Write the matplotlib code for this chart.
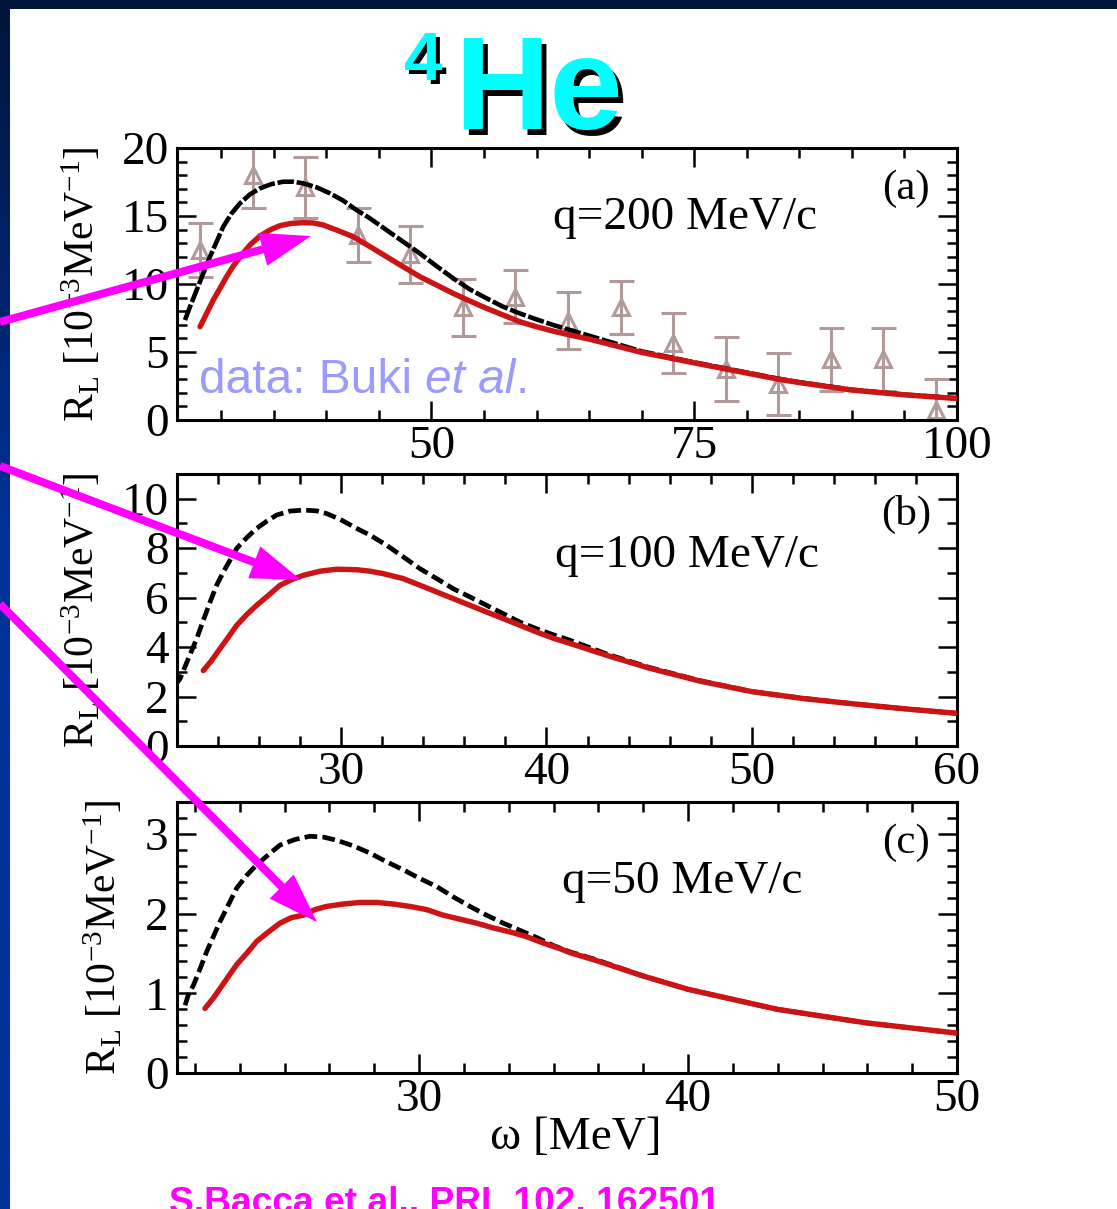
import numpy as np
import matplotlib
matplotlib.use("Agg")
import matplotlib.pyplot as plt
from matplotlib.ticker import MultipleLocator
from matplotlib.patches import FancyArrow, Rectangle
import matplotlib.transforms as mtransforms

plt.rcParams['font.family'] = ['Liberation Serif', 'DejaVu Serif']
plt.rcParams['mathtext.fontset'] = 'custom'
plt.rcParams['mathtext.rm'] = 'Liberation Serif'
plt.rcParams['mathtext.it'] = 'Liberation Serif:italic'
plt.rcParams['mathtext.bf'] = 'Liberation Serif:bold'

# ---------------- data ----------------
# (a) q = 200 MeV/c
w_a_dash = [26.56, 27.04, 27.67, 28.3, 28.94, 29.57, 30.2, 31.0, 31.79, 32.74, 33.69, 34.8,
            35.91, 36.86, 37.81, 39.08, 40.34, 41.61, 42.88, 44.15, 45.73, 47.31, 48.9,
            50.48, 52.07, 53.65, 55.24, 56.82, 58.4, 59.99, 61.57, 63.16, 65.0, 70.0,
            75.0, 78.0, 80.0, 83.0, 85.0, 90.0, 95.0, 100.0]
r_a_dash = [7.35, 8.33, 9.56, 10.78, 12.01, 13.11, 14.22, 15.2, 15.93, 16.59, 17.03, 17.35,
            17.52, 17.52, 17.4, 17.11, 16.67, 16.13, 15.44, 14.83, 13.97, 13.11, 12.25,
            11.32, 10.42, 9.61, 8.95, 8.33, 7.84, 7.4, 6.99, 6.62, 6.2, 5.05,
            4.24, 3.79, 3.49, 3.04, 2.78, 2.23, 1.87, 1.6]
w_a_full = [27.99, 28.62, 29.25, 29.89, 30.52, 31.15, 31.95, 32.74, 33.69, 34.64, 35.59,
            36.7, 37.81, 38.76, 39.71, 40.98, 42.56, 44.15, 45.73, 47.31, 48.9, 50.48,
            52.07, 53.65, 55.24, 56.82, 58.4, 59.99, 61.57, 63.16, 65.0, 70.0,
            75.0, 78.0, 80.0, 83.0, 85.0, 90.0, 95.0, 100.0]
r_a_full = [6.86, 7.84, 8.82, 9.68, 10.54, 11.32, 12.13, 12.87, 13.53, 13.97, 14.29,
            14.46, 14.51, 14.49, 14.34, 13.97, 13.48, 12.75, 12.01, 11.27, 10.54, 9.93,
            9.31, 8.75, 8.21, 7.72, 7.23, 6.86, 6.54, 6.25, 5.95, 4.97,
            4.2, 3.75, 3.45, 3.0, 2.75, 2.2, 1.85, 1.58]
w_buki = [28, 33, 38, 43, 48, 53, 58, 63, 68, 73, 78, 83, 88, 93, 98]
r_buki = [12.5, 18.0, 17.1, 13.6, 12.2, 8.3, 9.05, 7.3, 8.3, 5.64, 3.75, 2.65, 4.45, 4.45, 0.75]
e_buki = [2.0, 2.4, 2.25, 2.0, 2.1, 2.1, 1.95, 2.1, 1.95, 2.2, 2.35, 2.3, 2.35, 2.3, 2.3]

# (b) q = 100 MeV/c
w_b_dash = [21.9, 22.15, 22.55, 22.96, 23.28, 23.61, 23.93, 24.26, 24.58, 24.91, 25.39,
            25.88, 26.37, 26.85, 27.5, 28.15, 28.8, 29.29, 29.94, 30.75, 31.4, 32.21,
            33.02, 33.84, 34.65, 35.46, 36.27, 37.08, 37.9, 38.71, 39.52, 40.33, 41.14,
            43.0, 45.0, 47.5, 50.0, 52.5, 55.0, 57.5, 60.0]
r_b_dash = [2.45, 2.72, 3.53, 4.34, 5.08, 5.82, 6.5, 7.04, 7.51, 7.99, 8.42,
            8.8, 9.09, 9.34, 9.5, 9.54, 9.51, 9.4, 9.17, 8.8, 8.53, 8.12,
            7.65, 7.17, 6.77, 6.36, 6.03, 5.69, 5.35, 5.01, 4.74, 4.5, 4.28,
            3.7, 3.18, 2.64, 2.2, 1.93, 1.7, 1.5, 1.32]
w_b_full = [23.28, 23.69, 24.09, 24.5, 24.91, 25.39, 25.88, 26.45, 27.02, 27.59, 28.15,
            28.97, 29.78, 30.75, 31.4, 32.05, 33.02, 33.84, 34.65, 35.46, 36.27, 37.08,
            37.9, 38.71, 39.52, 40.33, 41.14, 43.0, 45.0, 47.5, 50.0, 52.5, 55.0, 57.5, 60.0]
r_b_full = [3.05, 3.46, 3.93, 4.4, 4.88, 5.31, 5.69, 6.09, 6.5, 6.73, 6.9,
            7.07, 7.15, 7.13, 7.07, 6.97, 6.77, 6.5, 6.23, 5.96, 5.69, 5.42,
            5.15, 4.88, 4.61, 4.36, 4.15, 3.65, 3.15, 2.62, 2.2, 1.92, 1.7, 1.5, 1.32]

# (c) q = 50 MeV/c
w_c_dash = [21.3, 21.42, 21.61, 21.86, 22.1, 22.35, 22.6, 22.91, 23.22, 23.59, 23.96,
            24.4, 24.83, 25.39, 25.94, 26.44, 26.94, 27.55, 28.17, 28.79, 29.41, 30.03,
            30.65, 31.27, 31.89, 32.51, 33.13, 33.75, 34.37, 34.99, 35.61, 36.6, 38.3,
            40.0, 43.3, 46.6, 50.0]
r_c_dash = [0.85, 0.98, 1.1, 1.31, 1.52, 1.71, 1.9, 2.11, 2.32, 2.48, 2.61,
            2.74, 2.86, 2.93, 2.97, 2.96, 2.92, 2.85, 2.76, 2.65, 2.55, 2.44,
            2.34, 2.21, 2.09, 1.98, 1.88, 1.79, 1.7, 1.6, 1.52, 1.42, 1.22,
            1.05, 0.8, 0.63, 0.5]
w_c_full = [22.04, 22.35, 22.6, 22.91, 23.22, 23.59, 23.96, 24.4, 24.83, 25.26, 25.7,
            26.13, 26.56, 27.18, 27.8, 28.42, 29.04, 29.66, 30.28, 30.9, 31.52, 32.14,
            32.76, 33.38, 34.0, 34.62, 35.24, 35.61, 36.6, 38.3, 40.0, 43.3, 46.6, 50.0]
r_c_full = [0.81, 0.94, 1.06, 1.21, 1.36, 1.5, 1.65, 1.77, 1.88, 1.95, 1.98,
            2.05, 2.09, 2.12, 2.14, 2.14, 2.12, 2.09, 2.05, 1.98, 1.93, 1.88,
            1.82, 1.77, 1.71, 1.63, 1.56, 1.51, 1.41, 1.22, 1.05, 0.8, 0.63, 0.5]

q_labels = ["q=200 MeV/c", "q=100 MeV/c", "q=50 MeV/c"]
panel_tags = ["(a)", "(b)", "(c)"]
ylabel_text = r"R$_\mathregular{L}$ [10$^{\mathregular{-3}}$MeV$^{\mathregular{-1}}$]"
xlabel_text = "\u03c9 [MeV]"
credit_text = "S.Bacca et al., PRL 102, 162501"

# ---------------- figure ----------------
W, H = 1117, 1209
fig = plt.figure(figsize=(W / 100, H / 100), dpi=100)
fig.patch.set_facecolor('white')

# slide frame: dark band on top, blue gradient strip on the left
bg = fig.add_axes([0, 0, 1, 1], zorder=-10)
bg.set_xlim(0, W)
bg.set_ylim(H, 0)
bg.axis('off')
top_col = np.array([0x00, 0x14, 0x3a]) / 255
bot_col = np.array([0x00, 0x33, 0x99]) / 255
t = np.clip(np.linspace(0, 1, 300) / 0.45, 0, 1)[:, None]
strip = (top_col[None, :] * (1 - t) + bot_col[None, :] * t)[:, None, :]
bg.imshow(strip, extent=[0, 10, H, 0], aspect='auto', interpolation='bilinear')
bg.add_patch(Rectangle((0, 0), W, 9, color='#00143a', lw=0))

RED = '#cc1414'
DATA_COL = '#b39a9a'
TICK_FS = 34


def style(ax, xlim, ylim, xmaj, xmin, ymaj, ymin):
    ax.set_xlim(*xlim)
    ax.set_ylim(*ylim)
    ax.xaxis.set_major_locator(MultipleLocator(xmaj))
    ax.xaxis.set_minor_locator(MultipleLocator(xmin))
    ax.yaxis.set_major_locator(MultipleLocator(ymaj))
    ax.yaxis.set_minor_locator(MultipleLocator(ymin))
    ax.tick_params(which='both', direction='in', top=True, right=True, width=1.8,
                   labelsize=TICK_FS)
    ax.tick_params(which='major', length=14)
    ax.tick_params(which='minor', length=7)
    ax.tick_params(axis='y', pad=6)
    ax.tick_params(axis='x', pad=4)
    for s in ax.spines.values():
        s.set_linewidth(2.2)
    ax.set_facecolor('none')


axA = fig.add_axes([177 / W, 1 - 420 / H, 780 / W, 272 / H])
axB = fig.add_axes([177 / W, 1 - 746 / H, 780 / W, 272 / H])
axC = fig.add_axes([177 / W, 1 - 1073 / H, 780 / W, 271 / H])

style(axA, (25.8, 100), (0, 20), 25, 5, 5, 1)
style(axB, (22, 60), (0, 11), 10, 2, 2, 1)
style(axC, (21, 50), (0, 3.4), 10, 10 / 6, 1, 0.2)

line_kw = dict(solid_joinstyle='round', dash_joinstyle='round')

# panel (a)
axA.errorbar(w_buki, r_buki, yerr=e_buki, fmt='^', mfc='none', mec=DATA_COL,
             ecolor=DATA_COL, ms=12, mew=2.2, elinewidth=2.2, capsize=9, capthick=2.2,
             zorder=2)
axA.plot(w_a_dash, r_a_dash, color='black', lw=3.3, dashes=(3.6, 0.6), zorder=3, **line_kw)
axA.plot(w_a_full, r_a_full, color=RED, lw=3.9, solid_capstyle='round', zorder=4, **line_kw)

# panel (b)
axB.plot(w_b_dash, r_b_dash, color='black', lw=3.4, dashes=(2.7, 1.1), zorder=3, **line_kw)
axB.plot(w_b_full, r_b_full, color=RED, lw=3.9, solid_capstyle='round', zorder=4, **line_kw)

# panel (c)
axC.plot(w_c_dash, r_c_dash, color='black', lw=3.4, dashes=(2.7, 1.1), zorder=3, **line_kw)
axC.plot(w_c_full, r_c_full, color=RED, lw=3.9, solid_capstyle='round', zorder=4, **line_kw)

for ax, q, tag, qpos, lx in zip((axA, axB, axC), q_labels, panel_tags,
                                ((0.482, 0.743), (0.485, 0.699), (0.494, 0.705)),
                                (-0.095, -0.095, -0.067)):
    ax.text(qpos[0], qpos[1], q, transform=ax.transAxes, fontsize=34,
            ha='left', va='center')
    ax.text(0.935, 0.85, tag, transform=ax.transAxes, fontsize=31,
            ha='center', va='center')
    ax.set_ylabel(ylabel_text, fontsize=30)
    ax.yaxis.set_label_coords(lx, 0.5)

fig.text(576 / W, 1 - 1138 / H, xlabel_text, fontsize=34, ha='center', va='center')

# title with drop shadow
sans = ['Liberation Sans', 'DejaVu Sans']
shadow = mtransforms.offset_copy(fig.transFigure, fig=fig, x=5, y=-6, units='dots')
shadow4 = mtransforms.offset_copy(fig.transFigure, fig=fig, x=4, y=-4, units='dots')
for tr, col in ((shadow, 'black'), (fig.transFigure, '#00ffff')):
    fig.text(454 / W, 1 - 129 / H, "He", transform=tr, fontsize=95, fontweight='bold',
             family=sans, color=col, ha='left', va='baseline')
for tr, col in ((shadow4, 'black'), (fig.transFigure, '#00ffff')):
    fig.text(404 / W, 1 - 80 / H, "4", transform=tr, fontsize=50, fontweight='bold',
             family=sans, color=col, ha='left', va='baseline')

# data attribution inside panel (a), with italic "et al"
renderer = fig.canvas.get_renderer()
x_px, y_base = 199, 393
for piece, style_ in (("data: Buki ", 'normal'), ("et al", 'italic'), (".", 'normal')):
    tx = fig.text(x_px / W, 1 - y_base / H, piece, fontsize=34.5, family=sans,
                  style=style_, color='#9a9aff', ha='left', va='baseline', zorder=5)
    x_px += tx.get_window_extent(renderer=renderer).width

fig.text(169 / W, 1 - 1213 / H, credit_text, fontsize=26.7, fontweight='bold',
         family=sans, color='#ff00ff', ha='left', va='baseline')

# pointer arrows to the full-calculation curves
ov = fig.add_axes([0, 0, 1, 1], zorder=10)
ov.set_xlim(0, W)
ov.set_ylim(H, 0)
ov.axis('off')
ov.patch.set_alpha(0)
arrow_tails = [(0, 322), (0, 466), (0, 604)]
arrow_tips = [(311, 236), (301, 580), (317, 922)]
for (x0, y0), (x1, y1) in zip(arrow_tails, arrow_tips):
    ov.add_patch(FancyArrow(x0, y0, x1 - x0, y1 - y0, width=8, head_width=34,
                            head_length=50, length_includes_head=True,
                            color='#ff00ff', lw=0))

fig.savefig('out.png', dpi=100)
